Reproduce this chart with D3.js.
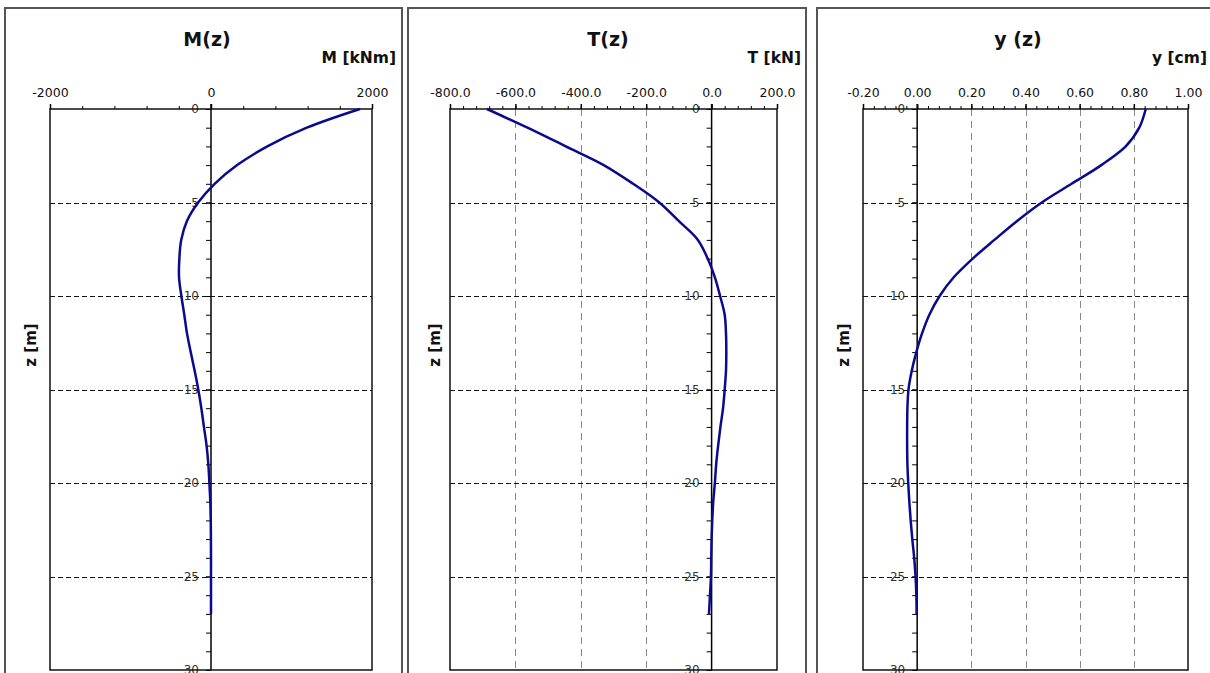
<!DOCTYPE html>
<html>
<head>
<meta charset="utf-8">
<script src="https://cdn.jsdelivr.net/npm/d3@7"></script>
<style>
  html, body { margin: 0; padding: 0; background: #ffffff; }
  svg { display: block; }
  text { font-family: "DejaVu Sans", Verdana, sans-serif; }
</style>
</head>
<body>
<div id="chart"></div>
<script>
// Depth along the pile [m]
const depth = [0, 1, 2, 3, 4, 5, 6, 7, 8, 9, 10, 11, 12, 13, 14, 15, 16, 17, 18, 19, 20, 21, 22, 23, 24, 25, 26, 27];

// Bending moment M(z) [kNm]
const moment = [1850, 1190, 700, 325, 45, -160, -300, -370, -393, -397, -368, -332, -298, -252, -203, -158, -120, -88, -55, -33, -20, -9, -3, -1, 0, 0, 0, 0];

// Shear T(z) [kN]
const shear = [-687, -563, -446, -330, -240, -160, -100, -42, -12, 10, 26, 40, 44, 45, 44, 40, 35, 27, 20, 14, 10, 5, 2, 0, -1, -2, -5, -8];

// Displacement y(z) [cm]
const displacement = [0.844, 0.82, 0.77, 0.68, 0.57, 0.46, 0.368, 0.285, 0.205, 0.135, 0.083, 0.045, 0.018, -0.003, -0.02, -0.032, -0.036, -0.037, -0.037, -0.036, -0.033, -0.029, -0.024, -0.018, -0.011, -0.006, -0.003, -0.002];

// Tick labels of the top axes and the depth axis
const momentTicks = [-2000, 0, 2000];
const shearTicks = [-800, -600, -400, -200, 0, 200];
const dispTicks = [-0.2, 0, 0.2, 0.4, 0.6, 0.8, 1.0];
const depthTicks = [0, 5, 10, 15, 20, 25, 30];

// Vertical grid lines (grey) for the shear and displacement charts
const shearGrid = [-600, -400, -200];
const dispGrid = [0.2, 0.4, 0.6, 0.8];

// Total size of the picture
const totalWidth = 1210;
const totalHeight = 673;

// Vertical extent of every plot area (z from 0 to 30 m)
const plotTop = 109;
const plotBottom = 670;

const svg = d3
    .select('#chart')
    .append('svg')
    .attr('width', totalWidth)
    .attr('height', totalHeight);

// Panel settings: positions and formatting for every chart
const panels = [
    {
        frame: [5, 402], plot: [50, 372],
        domain: [-2000, 2000], ticks: momentTicks, minorStep: 400, decimals: 0,
        grid: [], values: moment,
        title: 'M(z)', titleX: 207, unit: 'M [kNm]', unitX: 396, zLabelX: 31
    },
    {
        frame: [408, 806], plot: [450, 777],
        domain: [-800, 200], ticks: shearTicks, minorStep: 40, decimals: 1,
        grid: shearGrid, values: shear,
        title: 'T(z)', titleX: 608, unit: 'T [kN]', unitX: 801, zLabelX: 435
    },
    {
        frame: [817, 1230], plot: [863, 1188],
        domain: [-0.2, 1.0], ticks: dispTicks, minorStep: 0.04, decimals: 2,
        grid: dispGrid, values: displacement,
        title: 'y (z)', titleX: 1018, unit: 'y [cm]', unitX: 1207, zLabelX: 844
    }
];

// Shared depth scale
const z = d3.scaleLinear().domain([0, 30]).range([plotTop, plotBottom]);

panels.forEach((p) => {
    const g = svg.append('g');

    // Outer border of the panel
    g.append('rect')
        .attr('x', p.frame[0])
        .attr('y', 8)
        .attr('width', p.frame[1] - p.frame[0])
        .attr('height', 720)
        .attr('fill', 'none')
        .attr('stroke', '#555')
        .attr('stroke-width', 2);

    // Horizontal scale of the chart
    const x = d3.scaleLinear().domain(p.domain).range(p.plot);

    // Minor tick positions of the top axis
    const minor = d3.range(p.domain[0], p.domain[1] + p.minorStep / 2, p.minorStep)
        .map((v) => +v.toFixed(6));

    // Vertical grey dashed grid lines
    g.selectAll('.vgrid')
        .data(p.grid)
        .enter()
        .append('line')
        .attr('x1', (d) => Math.round(x(d)) + 0.5)
        .attr('x2', (d) => Math.round(x(d)) + 0.5)
        .attr('y1', plotTop)
        .attr('y2', plotBottom)
        .attr('stroke', '#888')
        .attr('stroke-width', 1)
        .attr('stroke-dasharray', '7,5');

    // Horizontal black dashed grid lines
    g.selectAll('.hgrid')
        .data(depthTicks.filter((d) => d > 0 && d < 30))
        .enter()
        .append('line')
        .attr('x1', p.plot[0])
        .attr('x2', p.plot[1])
        .attr('y1', (d) => Math.round(z(d)) + 0.5)
        .attr('y2', (d) => Math.round(z(d)) + 0.5)
        .attr('stroke', '#111')
        .attr('stroke-width', 1)
        .attr('stroke-dasharray', '5,3');

    // Vertical zero line carrying the depth axis
    g.append('line')
        .attr('x1', x(0))
        .attr('x2', x(0))
        .attr('y1', plotTop - 5)
        .attr('y2', plotBottom)
        .attr('stroke', '#000')
        .attr('stroke-width', 1.5);

    // Depth axis: minor ticks every metre
    const zMinor = g.append('g')
        .attr('transform', `translate(${x(0)},0)`)
        .call(d3.axisLeft(z).tickValues(d3.range(0, 31)).tickSize(5).tickFormat(''));
    zMinor.select('.domain').remove();

    // Depth axis: labels every 5 m
    const zAxis = g.append('g')
        .attr('transform', `translate(${x(0)},0)`)
        .call(d3.axisLeft(z).tickValues(depthTicks).tickSize(5).tickPadding(7).tickFormat((d) => d));
    zAxis.select('.domain').remove();
    zAxis.selectAll('text')
        .attr('fill', '#333')
        .style('font-size', '12px')
        .style('font-family', '"DejaVu Sans", Verdana, sans-serif');

    // Plot frame
    g.append('rect')
        .attr('x', p.plot[0])
        .attr('y', plotTop)
        .attr('width', p.plot[1] - p.plot[0])
        .attr('height', plotBottom - plotTop)
        .attr('fill', 'none')
        .attr('stroke', '#111')
        .attr('stroke-width', 1.5);

    // Top axis: minor ticks
    const xMinor = g.append('g')
        .attr('transform', `translate(0,${plotTop})`)
        .call(d3.axisTop(x).tickValues(minor).tickSize(3).tickFormat(''));
    xMinor.select('.domain').remove();

    // Top axis: labelled ticks
    const xAxis = g.append('g')
        .attr('transform', `translate(0,${plotTop})`)
        .call(d3.axisTop(x).tickValues(p.ticks).tickSize(5).tickPadding(7)
            .tickFormat((d) => d.toFixed(p.decimals)));
    xAxis.select('.domain').remove();
    xAxis.selectAll('line').attr('stroke-width', 1.5);
    xAxis.selectAll('text')
        .attr('fill', '#111')
        .style('font-size', '12.5px')
        .style('font-family', '"DejaVu Sans", Verdana, sans-serif');

    // The curve itself
    const line = d3.line()
        .x((d, i) => x(p.values[i]))
        .y((d) => z(d))
        .curve(d3.curveCatmullRom.alpha(0.5));

    g.append('path')
        .datum(depth)
        .attr('d', line)
        .attr('fill', 'none')
        .attr('stroke', '#0a0a8c')
        .attr('stroke-width', 2.5)
        .attr('stroke-linejoin', 'round');

    // Chart title
    g.append('text')
        .attr('x', p.titleX)
        .attr('y', 46)
        .attr('text-anchor', 'middle')
        .attr('font-weight', 'bold')
        .style('font-size', '19px')
        .attr('fill', '#111')
        .text(p.title);

    // Unit label of the horizontal axis
    g.append('text')
        .attr('x', p.unitX)
        .attr('y', 63)
        .attr('text-anchor', 'end')
        .attr('font-weight', 'bold')
        .style('font-size', '15.5px')
        .attr('fill', '#111')
        .text(p.unit);

    // Depth axis title
    g.append('text')
        .attr('transform', `translate(${p.zLabelX + 5},345) rotate(-90)`)
        .attr('text-anchor', 'middle')
        .attr('font-weight', 'bold')
        .style('font-size', '15px')
        .attr('fill', '#111')
        .text('z [m]');
});
</script>
</body>
</html>
